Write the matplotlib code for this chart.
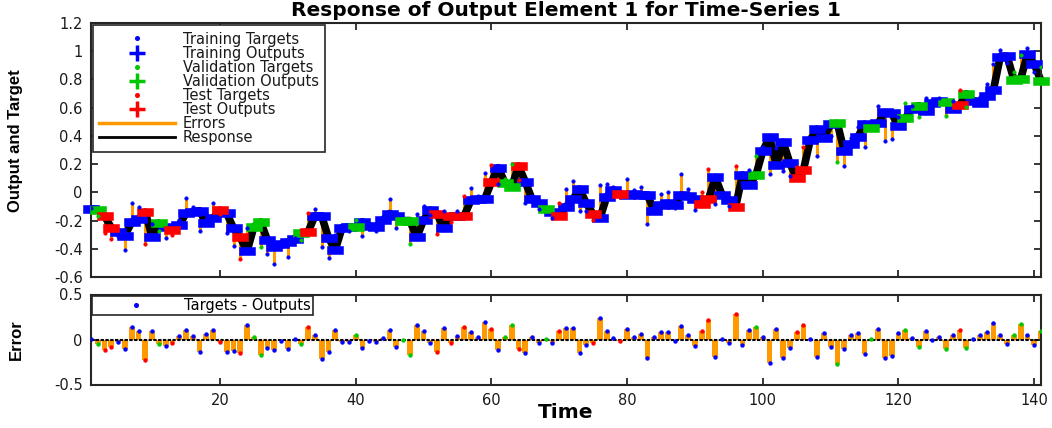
import numpy as np
import matplotlib
matplotlib.use('Agg')
import matplotlib.pyplot as plt
from matplotlib.path import Path
from matplotlib.lines import Line2D
from matplotlib import font_manager

# ---------------- data ----------------
time = list(range(1, 142))

outputs = [
    -0.116, -0.123, -0.168, -0.251, -0.28, -0.306, -0.21, -0.192, -0.14, -0.315,
    -0.218, -0.249, -0.268, -0.232, -0.149, -0.138, -0.13, -0.22, -0.184, -0.126,
    -0.149, -0.254, -0.32, -0.417, -0.244, -0.21, -0.339, -0.386, -0.368, -0.351,
    -0.33, -0.287, -0.28, -0.165, -0.17, -0.323, -0.406, -0.25, -0.245, -0.247,
    -0.209, -0.24, -0.245, -0.197, -0.15, -0.17, -0.2, -0.2, -0.32, -0.197,
    -0.126, -0.154, -0.256, -0.169, -0.17, -0.165, -0.055, -0.05, -0.05, 0.071,
    0.175, 0.068, 0.04, 0.187, 0.076, -0.05, -0.078, -0.119, -0.14, -0.169,
    -0.102, -0.05, 0.023, -0.078, -0.154, -0.185, -0.03, 0.016, -0.012, -0.02,
    -0.015, -0.02, -0.02, -0.13, -0.09, -0.078, -0.09, -0.019, -0.026, -0.05,
    -0.086, -0.048, 0.106, -0.019, -0.055, -0.102, 0.123, 0.052, 0.123, 0.294,
    0.389, 0.192, 0.355, 0.206, 0.1, 0.161, 0.372, 0.448, 0.384, 0.483,
    0.488, 0.29, 0.34, 0.39, 0.483, 0.457, 0.49, 0.566, 0.56, 0.467,
    0.526, 0.592, 0.614, 0.573, 0.633, 0.645, 0.64, 0.592, 0.616, 0.699,
    0.65, 0.633, 0.68, 0.728, 0.962, 0.965, 0.799, 0.803, 0.977, 0.91,
    0.79,
]

errors = [
    0.005, -0.045, -0.12, -0.083, -0.03, -0.10, 0.136, 0.09, -0.227, 0.09,
    -0.053, -0.072, -0.034, 0.038, 0.106, 0.034, -0.144, 0.064, 0.106, -0.03,
    -0.136, -0.129, -0.155, 0.163, 0.023, -0.174, -0.095, -0.12, -0.02, -0.106,
    0.005, -0.053, 0.136, 0.045, -0.216, -0.144, 0.106, -0.027, -0.027, 0.053,
    -0.098, -0.015, -0.03, 0.019, 0.102, -0.08, -0.008, -0.167, 0.163, 0.098,
    -0.038, -0.14, 0.125, -0.038, 0.038, 0.136, 0.083, 0.026, 0.19, 0.12,
    -0.117, 0.03, 0.163, -0.102, -0.15, 0.023, -0.038, 0.005, -0.042, 0.095,
    0.125, 0.129, -0.155, -0.057, -0.042, 0.239, 0.09, 0.019, -0.02, 0.117,
    0.03, 0.06, -0.205, 0.026, 0.08, 0.08, -0.02, 0.148, 0.049, -0.072,
    0.09, 0.212, -0.19, 0.01, -0.042, 0.288, -0.057, 0.106, 0.136, 0.026,
    -0.258, 0.121, -0.205, -0.09, 0.083, 0.159, 0.011, -0.19, 0.068, -0.083,
    -0.273, -0.106, 0.045, 0.076, -0.159, 0.005, 0.121, -0.205, -0.182, 0.068,
    0.106, 0.019, -0.083, 0.095, -0.008, 0.026, -0.102, 0.053, 0.106, -0.095,
    0.005, 0.045, 0.087, 0.178, 0.049, -0.045, 0.053, 0.17, 0.049, -0.06,
    0.098,
]

# B = training, V = validation, T = test
groups = list(
    "BVTTBBBBTB" "VBTBBBBBBT" "BBTBVVBBBB" "BVTBBBBBBV" "BBBBBBVVBB"
    "BTBTBTBBBT" "BVVTBBBVBT" "BBBBTBBBTB" "BBBBBBBBBB" "TTBBBTBBVB"
    "BBBBTTBBBB" "VBBBBVBBBB" "VBVBBBVBTV" "BBBBBBVVBB" "V"
)

legend_labels = ["Training Targets", "Training Outputs", "Validation Targets",
                 "Validation Outputs", "Test Targets", "Test Outputs",
                 "Errors", "Response"]
top_yticks = [-0.6, -0.4, -0.2, 0, 0.2, 0.4, 0.6, 0.8, 1, 1.2]
top_yticklabels = ["-0.6", "-0.4", "-0.2", "0", "0.2", "0.4", "0.6", "0.8", "1", "1.2"]
bot_yticks = [-0.5, 0, 0.5]
bot_yticklabels = ["-0.5", "0", "0.5"]
xticks = [20, 40, 60, 80, 100, 120, 140]

# ---------------- style ----------------
colors = {"B": "#0000ff", "V": "#00c800", "T": "#ff0000"}
orange = "#ff9900"
spine_col = "#262626"

avail = {f.name for f in font_manager.fontManager.ttflist}
narrow = "Liberation Sans Narrow" if "Liberation Sans Narrow" in avail else "Liberation Sans"
narrow_size = 13 if narrow == "Liberation Sans Narrow" else 12
plt.rcParams["font.family"] = ["DejaVu Sans"]

t = np.array(time, dtype=float)
out = np.array(outputs)
err = np.array(errors)
tgt = out + err
grp = np.array(groups)

rect = Path([(-1, -0.5), (1, -0.5), (1, 0.5), (-1, 0.5), (-1, -0.5)],
            [Path.MOVETO, Path.LINETO, Path.LINETO, Path.LINETO, Path.CLOSEPOLY])

W, H = 1052, 428
fig = plt.figure(figsize=(W / 100, H / 100), dpi=100)

def fr(x0, y0, x1, y1):
    return [x0 / W, 1 - y1 / H, (x1 - x0) / W, (y1 - y0) / H]

ax1 = fig.add_axes(fr(91, 23, 1041, 277))
ax2 = fig.add_axes(fr(91, 294.5, 1041, 384.5))

# ---- top: response ----
ax1.vlines(t, tgt, out, color=orange, lw=2.2, zorder=1)
ax1.plot(t, out, color="k", lw=5.5, zorder=2, solid_joinstyle="round",
         solid_capstyle="butt", clip_on=False)
for g in ["B", "V", "T"]:
    m = grp == g
    ax1.plot(t[m], out[m], ls="none", marker=rect, ms=11.5, color=colors[g],
             mec=colors[g], mew=0.4, zorder=3, clip_on=False)
for g in ["B", "V", "T"]:
    m = grp == g
    ax1.plot(t[m], tgt[m], ls="none", marker="o", ms=2.6, color=colors[g],
             mec=colors[g], mew=0.3, zorder=4)

ax1.set_xlim(1, 141)
ax1.set_ylim(-0.6, 1.2)
ax1.set_yticks(top_yticks)
ax1.set_yticklabels(top_yticklabels)
ax1.set_xticks(xticks)
ax1.set_xticklabels([])

handles = [
    Line2D([], [], ls="none", marker="o", ms=2.6, color=colors["B"]),
    Line2D([], [], ls="none", marker="+", ms=11, mew=2.5, color=colors["B"]),
    Line2D([], [], ls="none", marker="o", ms=2.6, color=colors["V"]),
    Line2D([], [], ls="none", marker="+", ms=11, mew=2.5, color=colors["V"]),
    Line2D([], [], ls="none", marker="o", ms=2.6, color=colors["T"]),
    Line2D([], [], ls="none", marker="+", ms=11, mew=2.5, color=colors["T"]),
    Line2D([], [], color=orange, lw=2.5),
    Line2D([], [], color="k", lw=2.0),
]
leg1 = ax1.legend(handles, legend_labels, loc="upper left",
                  bbox_to_anchor=(0.002, 0.992), borderaxespad=0,
                  fontsize=10.5, labelspacing=-0.06, handlelength=5.2,
                  handletextpad=0.5, borderpad=0.45, frameon=True,
                  fancybox=False, framealpha=1, edgecolor=spine_col)
leg1.get_frame().set_linewidth(1.2)
for txt in leg1.get_texts():
    txt.set_color("#1a1a1a")

# ---- bottom: error ----
ax2.bar(t, err, width=0.85, color=orange, zorder=1)
ax2.axhline(0, color="k", lw=1.5, ls=(0, (1.6, 0.7)), zorder=2)
for g in ["B", "V", "T"]:
    m = grp == g
    ax2.plot(t[m], err[m], ls="none", marker="o", ms=2.8, color=colors[g],
             mec=colors[g], mew=0.3, zorder=3)
ax2.set_xlim(1, 141)
ax2.set_ylim(-0.5, 0.5)
ax2.set_yticks(bot_yticks)
ax2.set_yticklabels(bot_yticklabels)
ax2.set_xticks(xticks)

h2 = [Line2D([], [], ls="none", marker="o", ms=2.6, color=colors["B"])]
leg2 = ax2.legend(h2, ["Targets - Outputs"], loc="upper left",
                  bbox_to_anchor=(0.001, 0.98), borderaxespad=0,
                  fontsize=10.5, handlelength=5.8, handletextpad=0.4,
                  borderpad=0.12, frameon=True, fancybox=False, framealpha=1,
                  edgecolor=spine_col)
leg2.get_frame().set_linewidth(1.2)

for ax in (ax1, ax2):
    for s in ax.spines.values():
        s.set_color(spine_col)
        s.set_linewidth(1.5)
    ax.tick_params(direction="in", length=5, width=1.3, top=True, right=True,
                   labelsize=10.5, colors=spine_col, labelcolor="#1a1a1a", pad=6)
    ax.set_facecolor("white")

# ---- texts ----
fig.text(566 / W, 1 - 11 / H, "Response of Output Element 1 for Time-Series 1",
         ha="center", va="center", fontsize=14.5, fontweight="bold")
fig.text(16 / W, 1 - 141 / H, "Output and Target", rotation=90, ha="center",
         va="center", fontsize=narrow_size, fontweight="bold", family=[narrow])
fig.text(16 / W, 1 - 340 / H, "Error", rotation=90, ha="center", va="center",
         fontsize=narrow_size, fontweight="bold", family=[narrow])
fig.text(566 / W, 1 - 413 / H, "Time", ha="center", va="center",
         fontsize=14.5, fontweight="bold")

fig.savefig("out.png", dpi=100, facecolor="white")
